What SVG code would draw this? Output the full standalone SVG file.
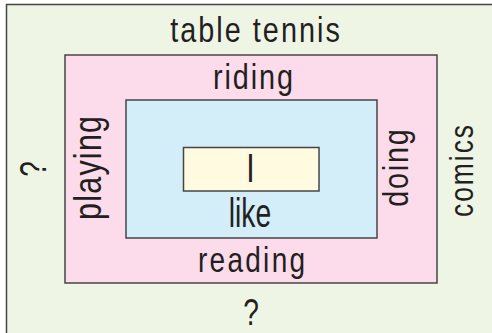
<svg xmlns="http://www.w3.org/2000/svg" width="492" height="333" viewBox="0 0 492 333">
<style>
.box{stroke:#454545;stroke-width:1.5}
.t{font-family:"Liberation Sans",Arial,sans-serif;fill:#231f20;text-anchor:middle}
</style>
<rect width="492" height="333" fill="#ffffff"/>
<g id="outer">
<rect class="box" x="6.5" y="4.5" width="500" height="340" fill="#eff5e5"/>
<text class="t" transform="translate(255,41.5) scale(0.8,1)" font-size="36" textLength="212" lengthAdjust="spacing">table tennis</text>
<text class="t" transform="translate(251,325) scale(0.76,1)" font-size="37">?</text>
<text class="t" transform="translate(46,169) rotate(-90) scale(0.76,1)" font-size="37">?</text>
<text class="t" transform="translate(473,171) rotate(-90) scale(0.8,1)" font-size="33" textLength="115" lengthAdjust="spacing">comics</text>
</g>
<g id="middle">
<rect class="box" x="65" y="55" width="372" height="228" fill="#fcdcea"/>
<text class="t" transform="translate(253,89) scale(0.8,1)" font-size="36" textLength="100" lengthAdjust="spacing">riding</text>
<text class="t" transform="translate(251.5,272) scale(0.8,1)" font-size="35" textLength="134" lengthAdjust="spacing">reading</text>
<text class="t" transform="translate(101,168) rotate(-90) scale(0.8,1)" font-size="38" textLength="130" lengthAdjust="spacing">playing</text>
<text class="t" transform="translate(408,168) rotate(-90) scale(0.8,1)" font-size="36" textLength="97" lengthAdjust="spacing">doing</text>
</g>
<g id="inner">
<rect class="box" x="126" y="100" width="251" height="138" fill="#d3edf9"/>
<text class="t" transform="translate(250,227) scale(0.8,1)" font-size="40" textLength="53" lengthAdjust="spacingAndGlyphs">like</text>
</g>
<g id="core">
<rect class="box" x="183.5" y="147.5" width="135.5" height="43.5" fill="#fffae0"/>
<text class="t" transform="translate(250.5,181.5) scale(0.76,1)" font-size="40">I</text>
</g>
</svg>
